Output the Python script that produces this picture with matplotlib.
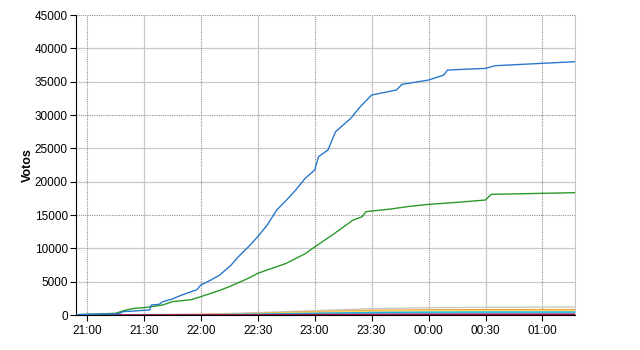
"""Cumulative votes over the night, one line per party."""

from datetime import datetime, timedelta

import matplotlib

matplotlib.use("Agg")
import matplotlib.dates as mdates
import matplotlib.pyplot as plt

plt.rcParams["font.family"] = ["Liberation Sans", "DejaVu Sans"]

BASE = datetime(2011, 5, 22)


def ts(hhmm):
    h, m = map(int, hhmm.split(":"))
    day = 1 if h < 12 else 0  # after midnight -> next day
    return BASE + timedelta(days=day, hours=h, minutes=m)


# blue series
blue_t = ["20:55", "21:00", "21:10", "21:17", "21:19", "21:25", "21:30", "21:33",
          "21:34", "21:38", "21:40", "21:45", "21:50", "21:55", "21:58", "22:00",
          "22:05", "22:10", "22:16", "22:20", "22:25", "22:30", "22:35", "22:40",
          "22:45", "22:50", "22:55", "23:00", "23:02", "23:07", "23:11", "23:19",
          "23:24", "23:30", "23:43", "23:46", "00:00", "00:08", "00:10", "00:30",
          "00:35", "01:17"]
blue_v = [50, 100, 150, 200, 500, 600, 700, 750,
          1500, 1600, 2000, 2400, 3000, 3500, 3800, 4500,
          5200, 6000, 7500, 8800, 10200, 11750, 13500, 15750,
          17200, 18750, 20500, 21750, 23750, 24750, 27500, 29500,
          31250, 33000, 33750, 34600, 35250, 36000, 36750, 37000,
          37400, 38000]

# green series
green_t = ["20:55", "21:00", "21:15", "21:20", "21:25", "21:30", "21:40", "21:45",
           "21:55", "22:00", "22:10", "22:15", "22:25", "22:30", "22:45", "22:55",
           "23:00", "23:10", "23:20", "23:25", "23:27", "23:40", "23:50", "00:00",
           "00:15", "00:30", "00:33", "01:17"]
green_v = [50, 100, 250, 700, 1000, 1100, 1500, 2000,
           2300, 2750, 3700, 4250, 5500, 6250, 7750, 9200,
           10200, 12150, 14200, 14750, 15500, 15900, 16300, 16600,
           16900, 17250, 18100, 18350]

# small parties
small_t = ["20:55", "22:00", "22:30", "23:00", "23:30", "00:00", "00:30", "01:17"]
gray_v = [0, 100, 350, 650, 950, 1100, 1150, 1200]
orange_v = [0, 80, 250, 500, 700, 780, 800, 800]
yellow_v = [0, 60, 200, 400, 560, 630, 650, 650]
cyan_v = [0, 40, 130, 260, 380, 430, 450, 450]
lcyan_v = [0, 30, 100, 200, 290, 330, 350, 350]
purple_v = [0, 15, 50, 90, 120, 140, 150, 150]
red_v = [0, 5, 20, 35, 50, 55, 60, 60]

fig = plt.figure(figsize=(6.4, 3.5), dpi=100)
ax = fig.add_axes([0.118, 0.1, 0.780, 0.857])

small = [
    (gray_v, "#c8c8c8"),
    (orange_v, "#f0a030"),
    (yellow_v, "#ffd870"),
    (lcyan_v, "#90e8f0"),
    (cyan_v, "#10b8d8"),
    (purple_v, "#9040a0"),
    (red_v, "#a01040"),
]
st = [ts(t) for t in small_t]
for vals, col in small:
    ax.plot(st, vals, color=col, lw=1.0, zorder=3)

ax.plot([ts(t) for t in green_t], green_v, color="#2a9a2a", lw=1.0, zorder=4)
ax.plot([ts(t) for t in blue_t], blue_v, color="#2a78cc", lw=1.0, zorder=5)

ax.set_xlim(ts("20:54"), ts("01:17"))
ax.set_ylim(0, 45000)

ax.set_yticks(range(0, 45001, 5000))
ax.xaxis.set_major_locator(mdates.MinuteLocator(byminute=[0, 30]))
ax.xaxis.set_major_formatter(mdates.DateFormatter("%H:%M"))

# grid: hours / multiples of 15000 dotted, the rest solid light gray
for y in range(5000, 45001, 5000):
    if y % 15000 == 0:
        ax.axhline(y, color="#909090", lw=0.8, ls=(0, (1, 1)), zorder=1)
    else:
        ax.axhline(y, color="#c8c8c8", lw=0.9, zorder=1)
for tk in ax.get_xticks():
    d = mdates.num2date(tk)
    if d.minute == 0:
        ax.axvline(tk, color="#909090", lw=0.8, ls=(0, (1, 1)), zorder=1)
    else:
        ax.axvline(tk, color="#c8c8c8", lw=0.9, zorder=1)

ax.spines["top"].set_visible(False)
ax.spines["right"].set_color("#c8c8c8")
ax.spines["left"].set_color("black")
ax.spines["bottom"].set_color("black")
ax.tick_params(axis="both", labelsize=8.5, length=4, width=0.8, pad=1.5)
ax.tick_params(axis="x", pad=3)

ax.set_ylabel("Votos", fontsize=9, fontweight="bold")
ax.yaxis.set_label_coords(-0.083, 0.5)

fig.savefig("out.png", dpi=100)
